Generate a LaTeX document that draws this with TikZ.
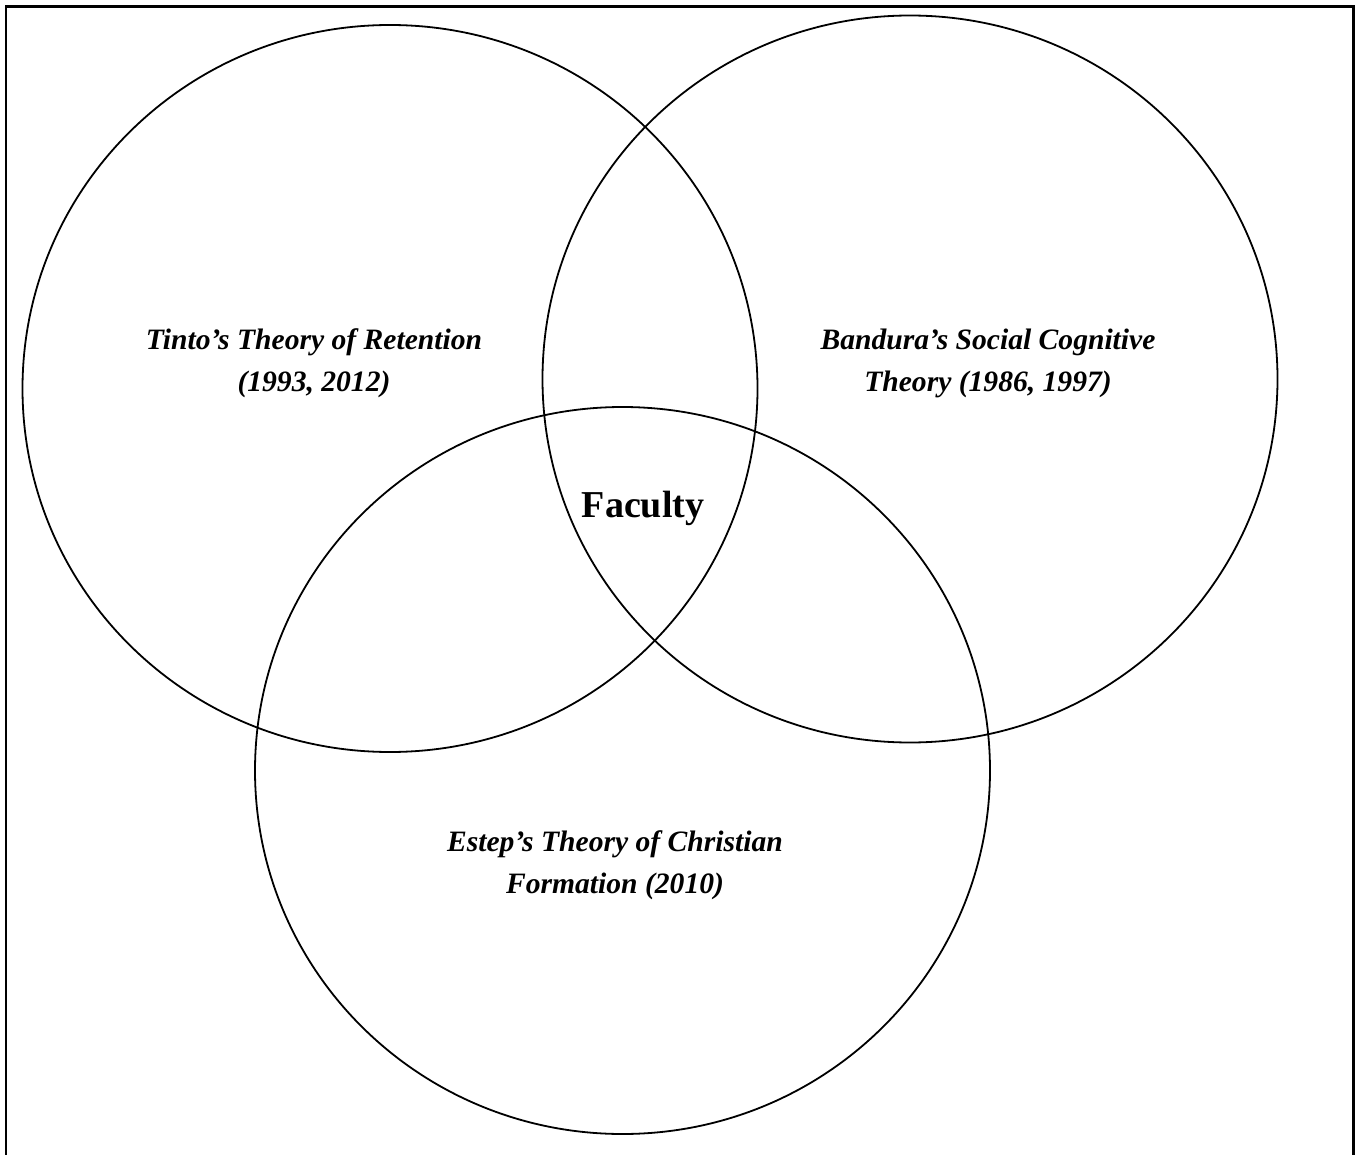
\documentclass[tikz,border=0pt]{standalone}
\usepackage{fontspec}
\setmainfont{Liberation Serif}
\usetikzlibrary{shapes.geometric}

\begin{document}
\begin{tikzpicture}[x=0.5pt,y=-0.5pt]

    \useasboundingbox (0,0) rectangle (1355,1155);
    \draw[line width=1.3pt] (6,1160) |- (1353.5,6.5) -- (1353.5,1160);

        \begin{scope}[every node/.style={ellipse,draw=black,line width=0.9pt,inner sep=0pt,minimum width=367.5pt,minimum height=363.5pt}]
            \node (1) at (390,388.5) {};
            \node (2) at (910,379) {};
            \node (3) at (622.5,770.5) {};
        \end{scope}

        \begin{scope}[every node/.style={align=center,inner sep=0pt,font=\fontsize{14.8}{21}\selectfont\bfseries\itshape}]
            \node (4) at (314,363) {Tinto’s Theory of Retention\\(1993, 2012)};
            \node (5) at (988,363) {Bandura’s Social Cognitive\\Theory (1986, 1997)};
            \node (6) at (615,865) {Estep’s Theory of Christian\\Formation (2010)};
        \end{scope}

        \node[anchor=base,inner sep=0pt,font=\fontsize{19}{23}\selectfont\bfseries] (7) at (643,517) {Faculty};

\end{tikzpicture}
\end{document}
